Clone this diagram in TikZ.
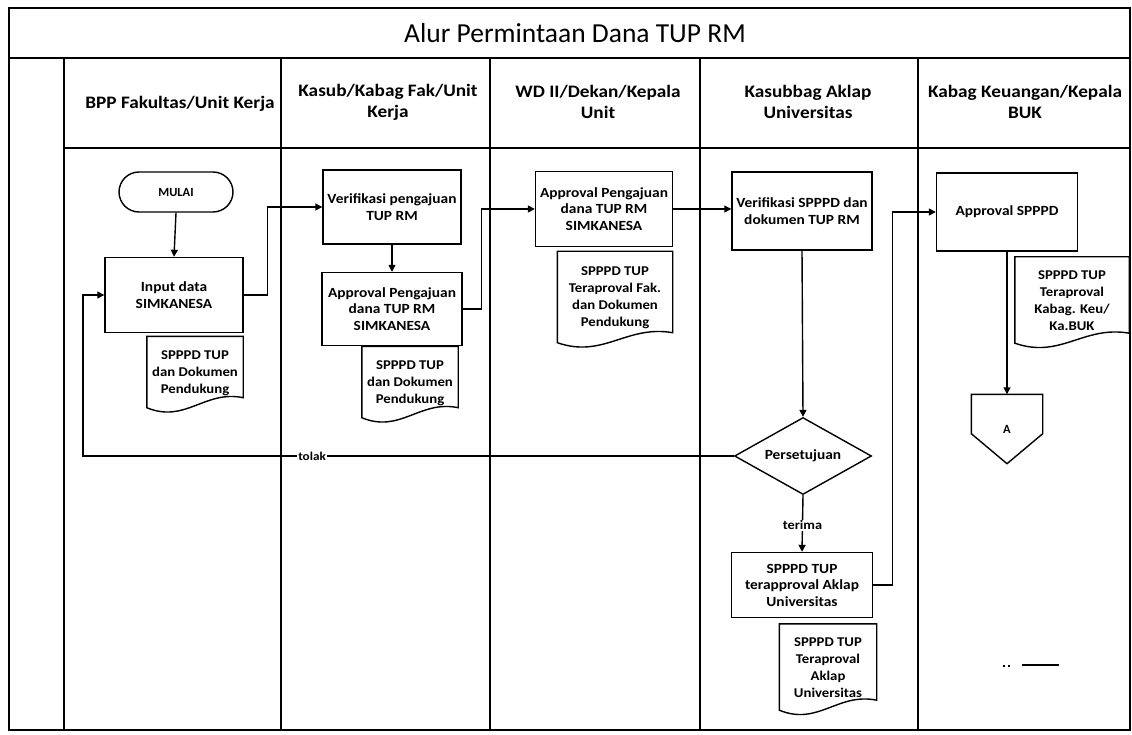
\documentclass[tikz,border=0pt]{standalone}
\usepackage{fontspec}
\setmainfont{Carlito}
\newfontfamily\widefont[FakeStretch=1.1]{Carlito}
\usetikzlibrary{arrows.meta,shapes.geometric,calc}

\tikzset{
  lane/.style={line width=1.8pt},
  conn/.style={line width=1.4pt,-{Triangle[length=7pt,width=7pt]}},
  plain/.style={line width=1.4pt},
  proc/.style={draw,line width=1.4pt,align=center,inner sep=2pt,
    font=\widefont\bfseries\fontsize{14}{16.5}\selectfont},
  docu/.style={align=center,inner sep=0pt,
    font=\widefont\bfseries\fontsize{13.4}{17}\selectfont},
  head/.style={align=center,font=\widefont\bfseries\fontsize{17.5}{21}\selectfont},
  lbl/.style={fill=white,inner sep=1pt,font=\widefont\bfseries\fontsize{13}{15}\selectfont},
}

% document symbol: rectangle with a wavy lower edge
\newcommand\docshape[1]{%
  \draw[plain] (#1.north west) -- (#1.north east) -- ($(#1.south east)+(0,-12)$)
    .. controls ($(#1.south east)!0.4!(#1.south west)+(0,-20)$)
       and ($(#1.south east)!0.6!(#1.south west)+(0,14)$)
    .. ($(#1.south west)+(0,-2)$) -- cycle;}

\begin{document}
\begin{tikzpicture}[x=1pt,y=-1pt]
\useasboundingbox (0,0) rectangle (1132,735);

% frame, title band and swimlanes
\draw[lane] (9,8) rectangle (1130,730);
\draw[lane] (9,58) -- (1130,58);
\draw[lane] (64,148) -- (1130,148);
\foreach \lx in {64,281,490,700,918} \draw[lane] (\lx,58) -- (\lx,730);

\node[font=\fontsize{27.5}{32}\selectfont] (title) at (575,33) {Alur Permintaan Dana TUP RM};

\node[head] (h1) at (180,104) {BPP Fakultas/Unit Kerja};
\node[head] (h2) at (388,102) {Kasub/Kabag Fak/Unit\\Kerja};
\node[head] (h3) at (598,102) {WD II/Dekan/Kepala\\Unit};
\node[head] (h4) at (808,102) {Kasubbag Aklap\\Universitas};
\node[head] (h5) at (1025,102) {Kabag Keuangan/Kepala\\BUK};

% lane 1
\node[proc,rounded corners=20pt,minimum width=114pt,minimum height=40pt,
  font=\bfseries\fontsize{12.5}{15}\selectfont] (mulai) at (176,192) {MULAI};
\node[proc,minimum width=138pt,minimum height=75pt] (input) at (174,295) {Input data\\SIMKANESA};
\node[docu,minimum width=96pt,minimum height=73pt] (doc1) at (195,373) {SPPPD TUP\\dan Dokumen\\Pendukung};
\docshape{doc1}

% lane 2
\node[proc,minimum width=138pt,minimum height=74pt] (verif) at (392,207) {Verifikasi pengajuan\\TUP RM};
\node[proc,minimum width=140pt,minimum height=73pt] (appr) at (392,309) {Approval Pengajuan\\dana TUP RM\\SIMKANESA};
\node[docu,minimum width=96pt,minimum height=73pt] (doc2) at (410,383) {SPPPD TUP\\dan Dokumen\\Pendukung};
\docshape{doc2}

% lane 3
\node[proc,minimum width=137pt,minimum height=75pt] (wd) at (604,209) {Approval Pengajuan\\dana TUP RM\\SIMKANESA};
\node[docu,minimum width=115pt,minimum height=93pt] (doc3) at (615,298) {SPPPD TUP\\Teraproval Fak.\\dan Dokumen\\Pendukung};
\docshape{doc3}

% lane 4
\node[proc,minimum width=140pt,minimum height=78pt] (vsp) at (802,211) {Verifikasi SPPPD dan\\dokumen TUP RM};
\node[draw,diamond,aspect=1.78,line width=1.4pt,minimum width=137pt,minimum height=77pt,inner sep=0pt,
  font=\widefont\bfseries\fontsize{14}{16}\selectfont] (dia) at (803,456) {Persetujuan};
\node[proc,minimum width=141pt,minimum height=65pt] (tbox) at (802,585) {SPPPD TUP\\terapproval Aklap\\Universitas};
\node[docu,minimum width=97pt,minimum height=88pt] (doc4) at (828,668) {SPPPD TUP\\Teraproval\\Aklap\\Universitas};
\docshape{doc4}

% lane 5
\node[proc,minimum width=141pt,minimum height=78pt] (apsp) at (1007,212) {Approval SPPPD};
\node[docu,minimum width=114pt,minimum height=88pt] (doc5) at (1072,301) {SPPPD TUP\\Teraproval\\Kabag. Keu/\\Ka.BUK};
\docshape{doc5}
\node[minimum width=71pt,minimum height=69pt,inner sep=0pt,
  font=\bfseries\fontsize{12.5}{15}\selectfont] (conA) at (1007,429) {A};
\draw[plain] (conA.north west) -- (conA.north east) -- ($(conA.south east)+(0,-30)$)
  -- (conA.south) -- ($(conA.south west)+(0,-30)$) -- cycle;

% flow
\coordinate (back) at (83,295);
\draw[conn] (mulai.south) -- (input.north);
\draw[conn] (input.east) -- ++(24,0) |- (verif.west);
\draw[conn] (verif.south) -- (appr.north);
\draw[conn] (appr.east) -- ++(19,0) |- (wd.west);
\draw[conn] (wd.east) -- (wd.east -| vsp.west);
\draw[conn] (vsp.south) -- (dia.north);
\draw[conn] (dia.west) -| (back) node[lbl,pos=0.324,font=\widefont\bfseries\fontsize{12}{14}\selectfont] {tolak} -- (input.west);
\draw[conn] (dia.south) -- node[lbl,pos=0.53] {terima} (tbox.north);
\draw[conn] (tbox.east) -- ++(19,0) |- (apsp.west);
\draw[conn] (apsp.south) -- (conA.north);

% pen marks near the lower right
\draw[line width=1.2pt] (1003,666) -- (1005,666) (1008,666) -- (1010,666) (1022,665) -- (1059,665);
\end{tikzpicture}
\end{document}
